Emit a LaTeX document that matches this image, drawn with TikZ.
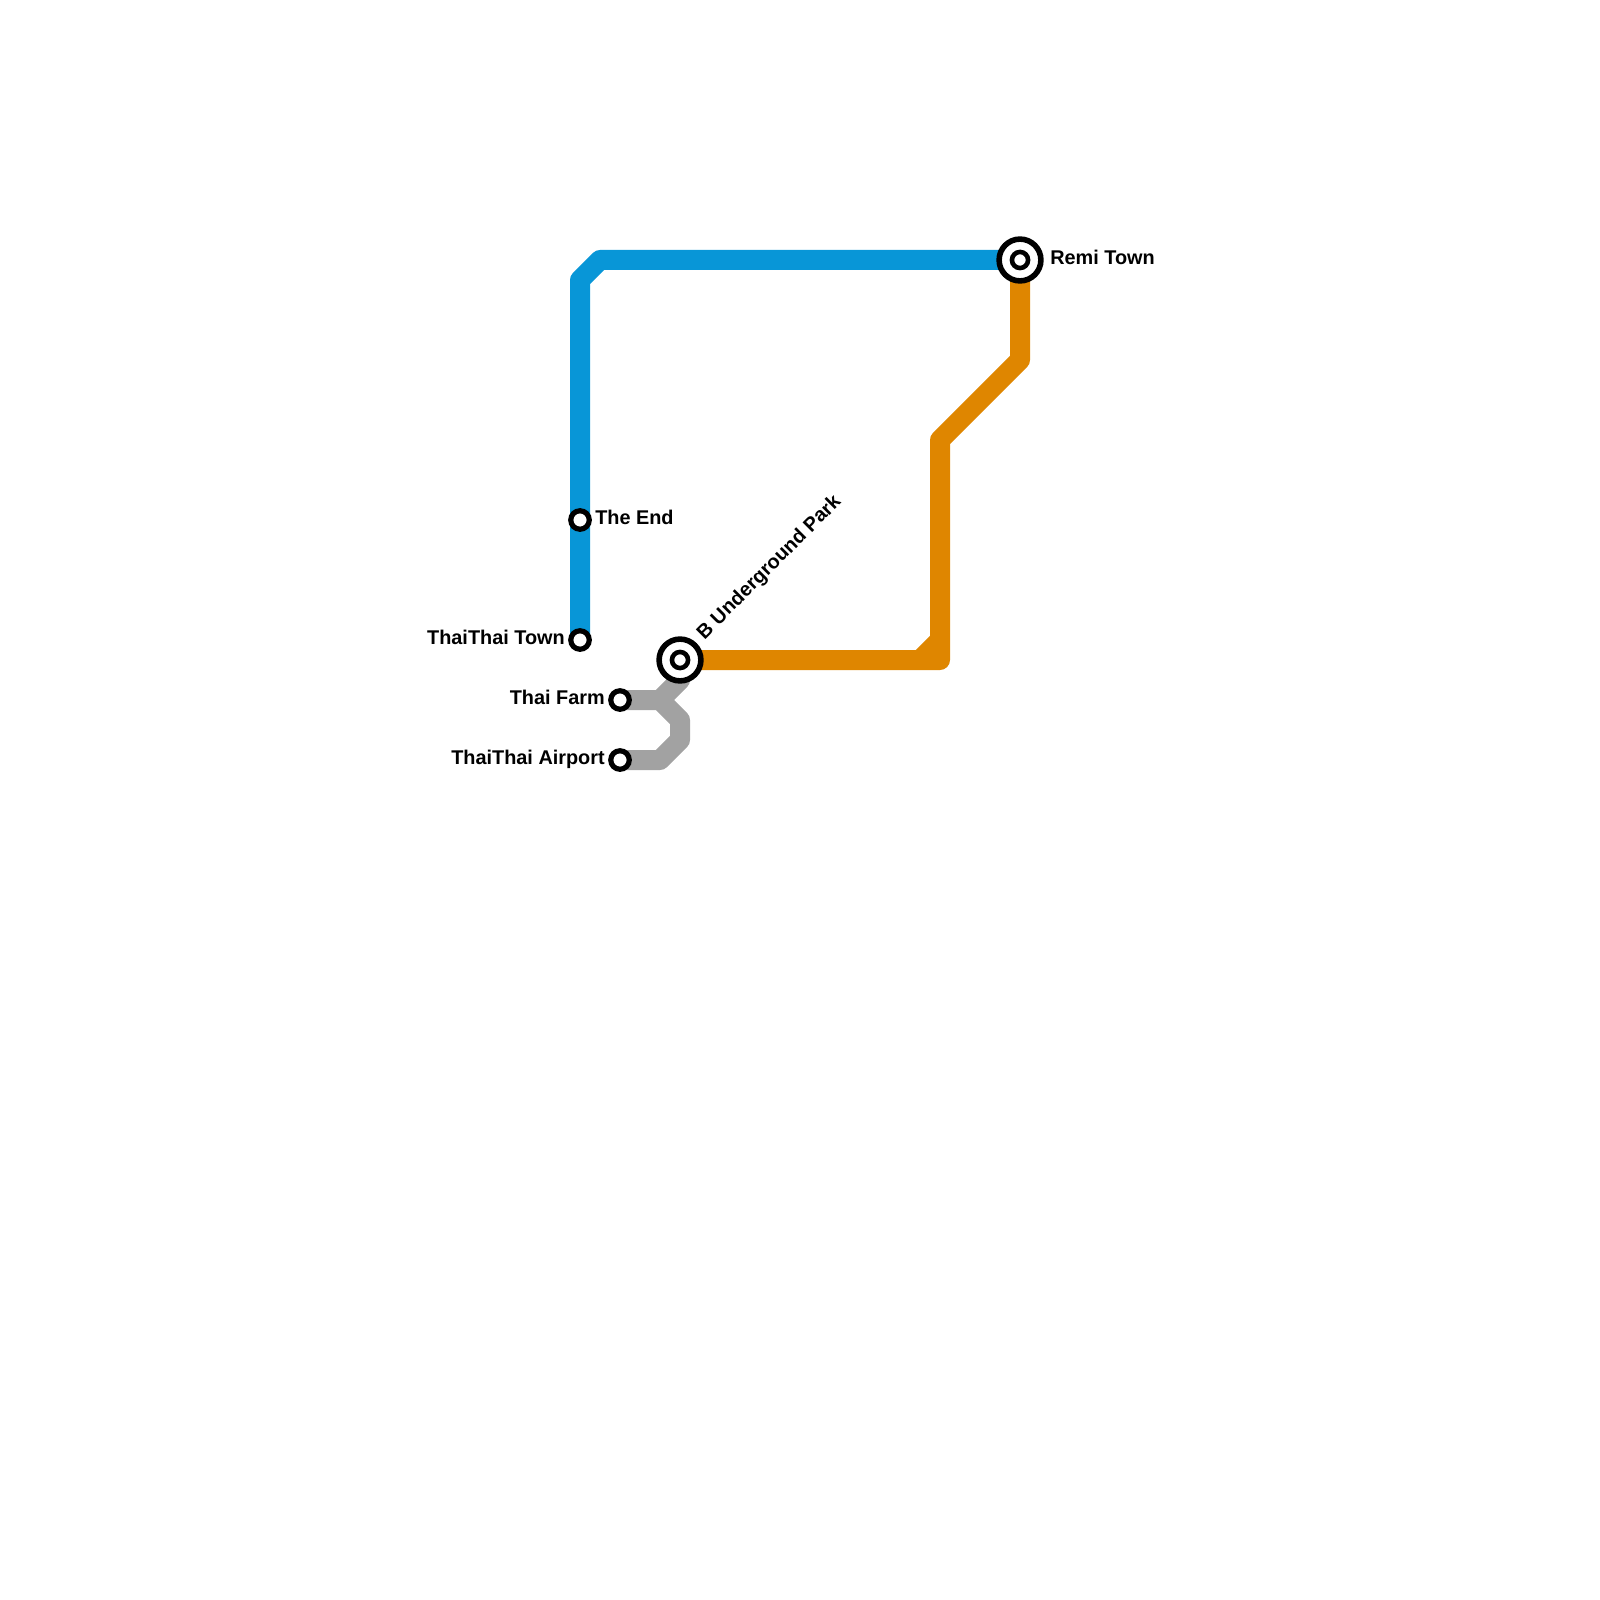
\documentclass[tikz,border=0pt]{standalone}
\usepackage{fontspec}
\setmainfont{Liberation Sans}
\usetikzlibrary{backgrounds}
\definecolor{lineblue}{HTML}{0896D7}
\definecolor{lineorange}{HTML}{DF8600}
\definecolor{linegrey}{HTML}{A2A2A2}
\tikzset{
    metroline/.style={line width=2mm, line join=round},
    stop/.style={circle, draw=black, fill=white, line width=0.52mm, minimum size=1.85mm, inner sep=0pt},
    hubring/.style={circle, draw=black, fill=white, line width=0.56mm, minimum size=4.18mm, inner sep=0pt},
    hubcore/.style={circle, draw=black, fill=white, line width=0.46mm, minimum size=1.61mm, inner sep=0pt},
    stationname/.style={inner sep=0pt, font=\fontsize{5.65pt}{6pt}\selectfont\bfseries},
}
\begin{document}
\begin{tikzpicture}[x=2mm,y=-2mm]
    \useasboundingbox (0,0) rectangle (80,80);

    % Stations
    \node[hubring] (remi) at (51,13) {};
    \node[hubcore] (remicore) at (51,13) {};
    \node[hubring] (park) at (34,33) {};
    \node[hubcore] (parkcore) at (34,33) {};
    \node[stop] (theend) at (29,26) {};
    \node[stop] (town) at (29,32) {};
    \node[stop] (farm) at (31,35) {};
    \node[stop] (airport) at (31,38) {};

    % Names
    \node[stationname, anchor=base west] (remilabel) at (52.48,13.215) {Remi Town};
    \node[stationname, anchor=base west] (theendlabel) at (29.73,26.215) {The End};
    \node[stationname, anchor=base east] (townlabel) at (28.27,32.215) {ThaiThai Town};
    \node[stationname, anchor=base east] (farmlabel) at (30.27,35.215) {Thai Farm};
    \node[stationname, anchor=base east] (airportlabel) at (30.27,38.215) {ThaiThai Airport};
    \node[stationname, anchor=base west, rotate=45] (parklabel) at (35.2,32.03) {B Underground Park};

    % Bends
    \coordinate (bluelow) at (29,14);
    \coordinate (bluehigh) at (30,13);
    \coordinate (orangecorner) at (47,33);
    \coordinate (orangelow) at (47,22);
    \coordinate (orangehigh) at (51,18);
    \coordinate (cutlow) at (46,33);
    \coordinate (cuthigh) at (47,32);
    \coordinate (greyjoin) at (33,35);
    \coordinate (greyright) at (34,36);
    \coordinate (greydown) at (34,37);
    \coordinate (greybottom) at (33,38);
    \coordinate (greyup) at (34,34);

    % Lines
    \begin{scope}[on background layer]
    \draw[metroline, lineblue] (town.center) -- (theend.center) -- (bluelow) -- (bluehigh) -- (remi.center);
    \draw[metroline, lineorange] (park.center) -- (orangecorner) -- (orangelow) -- (orangehigh) -- (remi.center);
    \draw[metroline, lineorange] (cutlow) -- (cuthigh);
    \draw[metroline, linegrey] (farm.center) -- (greyjoin) -- (greyright) -- (greydown) -- (greybottom) -- (airport.center);
    \draw[metroline, linegrey] (greyjoin) -- (greyup) -- (park.center);
    \end{scope}
\end{tikzpicture}
\end{document}
